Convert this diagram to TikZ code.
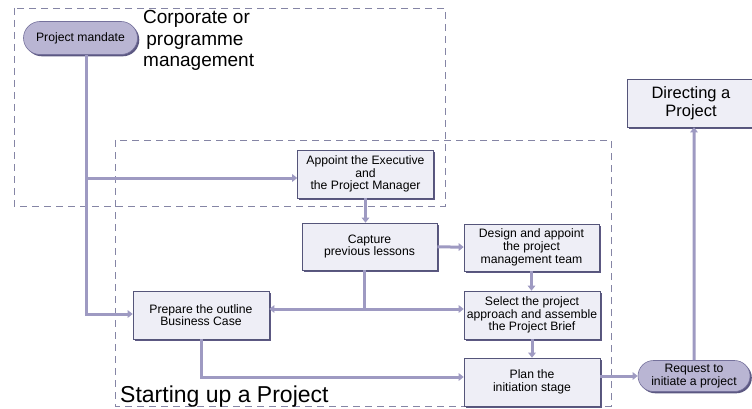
\documentclass[tikz,border=0pt]{standalone}
\usepackage{fontspec}
\setmainfont{Liberation Sans}
\usetikzlibrary{arrows.meta,shadows,shapes.misc}
\definecolor{boxfill}{HTML}{EEEEF6}
\definecolor{boxline}{HTML}{55557A}
\definecolor{pillfill}{HTML}{B9B5D3}
\definecolor{pillline}{HTML}{75719C}
\definecolor{shade}{HTML}{5C5882}
\definecolor{flowline}{HTML}{9E9AC2}
\definecolor{dashline}{HTML}{8585A5}
\begin{document}
\begin{tikzpicture}
  [x=1pt,y=-1pt,
   stepbox/.style={draw=boxline,fill=boxfill,line width=0.6pt,
     drop shadow={shadow xshift=1.8pt,shadow yshift=-1.8pt,fill=shade,opacity=1},
     align=center,inner sep=1pt,font=\fontsize{12.2}{12.7}\selectfont},
   pill/.style={stepbox,rounded rectangle,fill=pillfill,draw=pillline},
   flow/.style={draw=flowline,line width=3pt,-{Triangle[length=5pt,width=7.5pt]}},
   link/.style={draw=flowline,line width=3pt},
   area/.style={draw=dashline,line width=0.8pt,dash pattern=on 7pt off 5pt},
   title/.style={align=left,inner sep=0pt}]

  \useasboundingbox (0,0) rectangle (752,409);

  % areas
  \draw[area] (14,8) rectangle (445,206);
  \draw[area] (115,140) rectangle (611,406);
  \node[title,anchor=north west,font=\fontsize{19}{21.7}\selectfont] (corp) at (143,10)
    {Corporate or\\ \,programme\\management};
  \node[title,anchor=base west,font=\fontsize{23}{24}\selectfont] (sup) at (120,402)
    {Starting up a Project};

  % activities
  \node[pill,minimum width=116,minimum height=33] (mandate) at (80.5,38) {Project mandate};
  \node[stepbox,minimum width=136,minimum height=48] (appoint) at (365.5,174)
    {Appoint the Executive\\and\\the Project Manager};
  \node[stepbox,minimum width=135,minimum height=47] (capture) at (369.5,246.5)
    {Capture\\previous lessons};
  \node[stepbox,minimum width=135,minimum height=47] (design) at (531.5,247.5)
    {Design and appoint\\the project\\management team};
  \node[stepbox,minimum width=136,minimum height=48] (prepare) at (201,315)
    {Prepare the outline\\Business Case};
  \node[stepbox,minimum width=136,minimum height=48] (select) at (532,315)
    {Select the project\\approach and assemble\\the Project Brief};
  \node[stepbox,minimum width=136,minimum height=48] (plan) at (532,382)
    {Plan the\\initiation stage};
  \node[pill,minimum width=114,minimum height=31] (request) at (694,376)
    {Request to\\initiate a project};
  \node[stepbox,minimum width=128,minimum height=48,font=\fontsize{16.5}{18}\selectfont]
    (directing) at (691,103) {Directing a\\Project};

  \coordinate (split) at (86.5,178);
  \coordinate (hub) at (364,309);

  % flows
  \draw[flow] ([xshift=6pt]mandate.south) |- ([yshift=1pt]prepare.west);
  \draw[flow] (split) -- (split -| appoint.west);
  \draw[flow] (appoint) -- (appoint |- capture.north);
  \draw[flow] (capture) -- (design);
  \draw[link] (capture.south -| hub) -- (hub);
  \draw[flow] (hub) -- (hub -| prepare.east);
  \draw[flow] (hub) -- (hub -| select.west);
  \draw[flow] (design) -- (design |- select.north);
  \draw[flow] (select) -- (plan);
  \draw[flow] (prepare.south) |- ([yshift=5pt]plan.west);
  \draw[flow] (plan.east |- request) -- (request);
  \draw[flow] (request) -- (request |- directing.south);

\end{tikzpicture}
\end{document}
